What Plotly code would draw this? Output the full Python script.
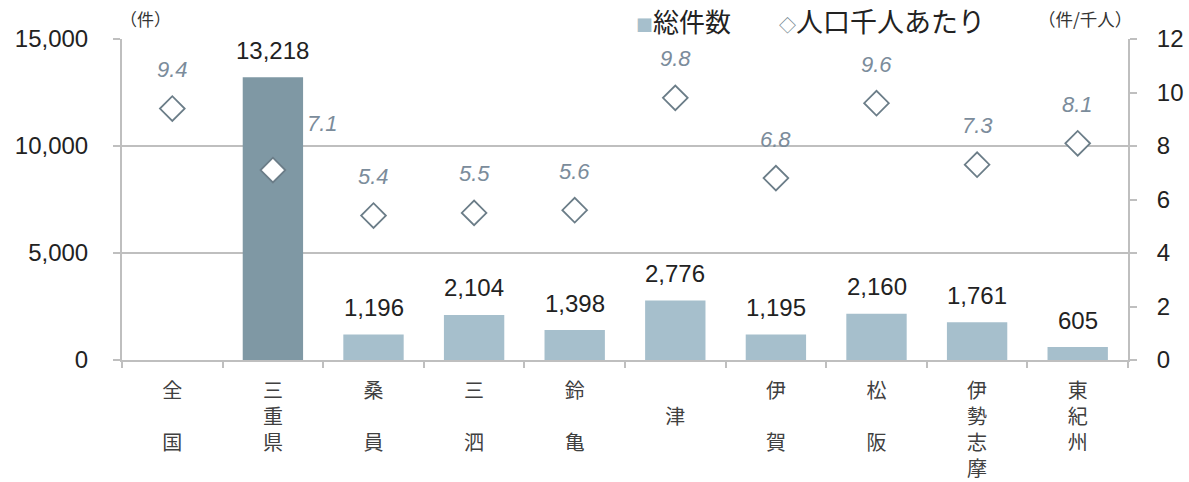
import plotly.graph_objects as go

categories = ["全国", "三重県", "桑員", "三泗", "鈴亀", "津", "伊賀", "松阪", "伊勢志摩", "東紀州"]
tick_labels = ["全<br><br>国", "三<br>重<br>県", "桑<br><br>員", "三<br><br>泗", "鈴<br><br>亀",
               "<br>津", "伊<br><br>賀", "松<br><br>阪", "伊<br>勢<br>志<br>摩", "東<br>紀<br>州"]
total_cases = [None, 13218, 1196, 2104, 1398, 2776, 1195, 2160, 1761, 605]
per_thousand = [9.4, 7.1, 5.4, 5.5, 5.6, 9.8, 6.8, 9.6, 7.3, 8.1]

FONT = "Liberation Sans, Arial, Noto Sans CJK JP, sans-serif"
DARK = "#7f98a4"
LIGHT = "#a6bfcc"
GRID = "#bfbfbf"
LABEL_C = "#7b8c9b"

bar_colors = [DARK if c == "三重県" else LIGHT for c in categories]

fig = go.Figure()
fig.add_trace(go.Bar(
    x=categories, y=total_cases, marker=dict(color=bar_colors, line=dict(width=0)),
    name="総件数", showlegend=False, hoverinfo="x+y",
))
fig.add_trace(go.Scatter(
    x=categories, y=per_thousand, yaxis="y2", mode="markers",
    marker=dict(symbol="diamond", size=19, color="white",
                line=dict(color="#6b7d88", width=1.8)),
    name="人口千人あたり", showlegend=False, cliponaxis=False,
))

# bar value labels
for c, v in zip(categories, total_cases):
    if v is None:
        continue
    fig.add_annotation(x=c, y=v, text=f"{v:,}", showarrow=False, yshift=27,
                       font=dict(size=24, color="#222222", family=FONT))

# per-thousand value labels
special_shift = {"三重県": (50, 47)}
for c, v in zip(categories, per_thousand):
    dx, dy = special_shift.get(c, (0, 39))
    fig.add_annotation(x=c, y=v, yref="y2", text=f"<i>{v:.1f}</i>", showarrow=False,
                       xshift=dx, yshift=dy,
                       font=dict(size=22, color=LABEL_C, family=FONT))

# unit labels and legend
fig.add_annotation(xref="paper", yref="paper", x=0.0, y=1.0, yshift=21, xanchor="left",
                   yanchor="middle", xshift=-4, text="（件）", showarrow=False,
                   font=dict(size=17, color="#333333", family="Noto Sans CJK JP"))
fig.add_annotation(xref="paper", yref="paper", x=1.0, y=1.0, yshift=21, xanchor="right",
                   yanchor="middle", xshift=6, text="（件/千人）", showarrow=False,
                   font=dict(size=17.5, color="#333333", family="Noto Sans CJK JP"))
fig.add_annotation(xref="paper", yref="paper", x=0.509, y=1.0, yshift=19, xanchor="left",
                   yanchor="middle",
                   text=f"<span style='color:{LIGHT};font-size:17px'>■</span>総件数",
                   showarrow=False, font=dict(size=26, color="#222222", family="Noto Sans CJK JP"))
fig.add_annotation(xref="paper", yref="paper", x=0.651, y=1.0, yshift=19, xanchor="left",
                   yanchor="middle",
                   text="<span style='color:#6b7d88;font-size:17px'>◇</span>人口千人あたり",
                   showarrow=False, font=dict(size=27, color="#222222", family="Noto Sans CJK JP"))

fig.update_layout(
    width=1189, height=482,
    margin=dict(l=122, r=61, t=39, b=122),
    plot_bgcolor="white", paper_bgcolor="white",
    bargap=0.4,
    font=dict(family=FONT, color="#222222"),
    xaxis=dict(
        type="category", tickmode="array", tickvals=categories, ticktext=tick_labels,
        range=[-0.5, len(categories) - 0.5],
        tickson="boundaries", ticks="outside", ticklen=6, tickcolor=GRID, tickwidth=1.5,
        showline=True, linecolor=GRID, linewidth=2, automargin=False,
        tickfont=dict(size=20, color="#404040", family="Noto Sans CJK JP"),
        showgrid=False, ticklabelstandoff=12,
    ),
    yaxis=dict(
        range=[0, 15000], tickvals=[0, 5000, 10000, 15000], tickformat=",",
        showgrid=True, gridcolor=GRID, gridwidth=1.5,
        showline=True, linecolor=GRID, linewidth=2, automargin=False,
        ticks="outside", ticklen=7, tickcolor=GRID, tickwidth=1.5,
        tickfont=dict(size=24, color="#222222", family=FONT),
        ticklabelstandoff=20, zeroline=False,
    ),
    yaxis2=dict(
        range=[0, 12], dtick=2, overlaying="y", side="right",
        showgrid=False, showline=True, linecolor=GRID, linewidth=2, automargin=False,
        ticks="outside", ticklen=7, tickcolor=GRID, tickwidth=1.5,
        tickfont=dict(size=24, color="#222222", family=FONT),
        ticklabelstandoff=15, zeroline=False,
    ),
)

# remove the default page margin so the figure sits at the window's top-left corner
fig.write_html("out.html", config={"displayModeBar": False},
               post_script="document.body.style.margin='0';")
